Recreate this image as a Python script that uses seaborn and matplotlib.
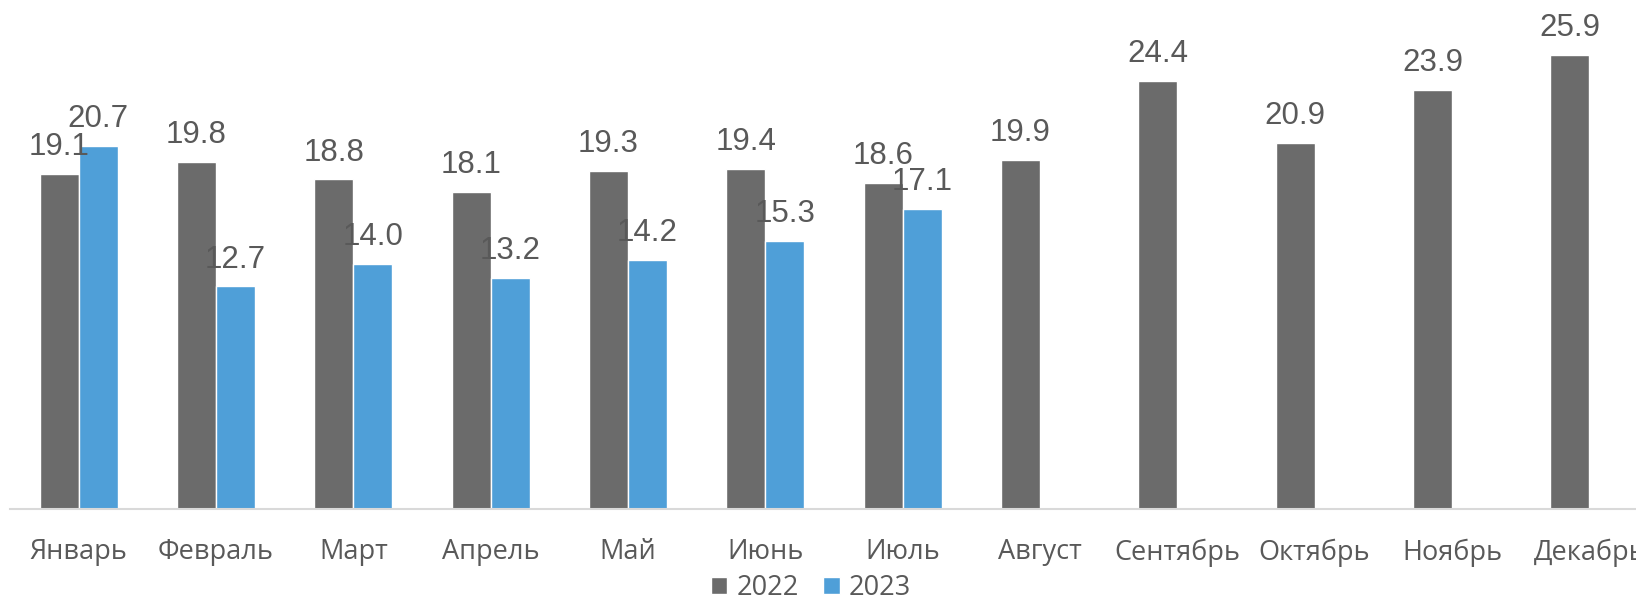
import seaborn as sns
import matplotlib.pyplot as plt
import numpy as np
import pandas as pd

months = ['Январь', 'Февраль', 'Март', 'Апрель', 'Май', 'Июнь', 'Июль',
          'Август', 'Сентябрь', 'Октябрь', 'Ноябрь', 'Декабрь']
vals_2022 = [19.1, 19.8, 18.8, 18.1, 19.3, 19.4, 18.6, 19.9, 24.4, 20.9, 23.9, 25.9]
vals_2023 = [20.7, 12.7, 14.0, 13.2, 14.2, 15.3, 17.1]
years = ['2022', '2023']
colors = ['#6b6b6b', '#4f9fd8']

rows = []
for m, v in zip(months, vals_2022):
    rows.append([m, '2022', v])
for m, v in zip(months, vals_2023):
    rows.append([m, '2023', v])
df = pd.DataFrame(rows, columns=['month', 'year', 'value'])

sns.set_style('white')
plt.rcParams['font.family'] = ['Open Sans', 'DejaVu Sans']

fig = plt.figure(figsize=(16.36, 5.99), dpi=100)
ax = fig.add_axes([10 / 1636, 90 / 599, 1648 / 1636, 500 / 599])

sns.barplot(data=df, x='month', y='value', hue='year', order=months,
            hue_order=years, palette=colors, width=0.57, ax=ax,
            saturation=1, errorbar=None, legend=True)

# value labels, skip the missing 2023 months
for c in ax.containers:
    labels = [f'{v:.1f}' if np.isfinite(v) else '' for v in c.datavalues]
    ax.bar_label(c, labels=labels, padding=8.5, fontsize=22.5, color='#595959',
                 family='Liberation Sans')

ax.set_ylim(0, 28.52)
ax.set_xlim(-0.5, 11.5)
ax.set_xlabel('')
ax.set_ylabel('')
ax.set_yticks([])
for s in ['top', 'right', 'left']:
    ax.spines[s].set_visible(False)
ax.spines['bottom'].set_color('#d9d9d9')
ax.spines['bottom'].set_linewidth(1.5)

ax.set_xticks(np.arange(12))
ax.set_xticklabels(months, fontsize=19.5, color='#595959')
ax.tick_params(axis='x', which='major', length=0, pad=21)
ax.set_xticks(np.arange(-0.5, 12, 1), minor=True)
ax.tick_params(axis='x', which='minor', length=8, width=1.5, color='#d9d9d9')

ax.legend(loc='center', bbox_to_anchor=(801 / 1648, -0.158), ncol=2,
          frameon=False, fontsize=19.5, labelcolor='#595959',
          handlelength=0.6, handleheight=0.6, handletextpad=0.35,
          columnspacing=0.9)

fig.savefig('out.png', dpi=100)
